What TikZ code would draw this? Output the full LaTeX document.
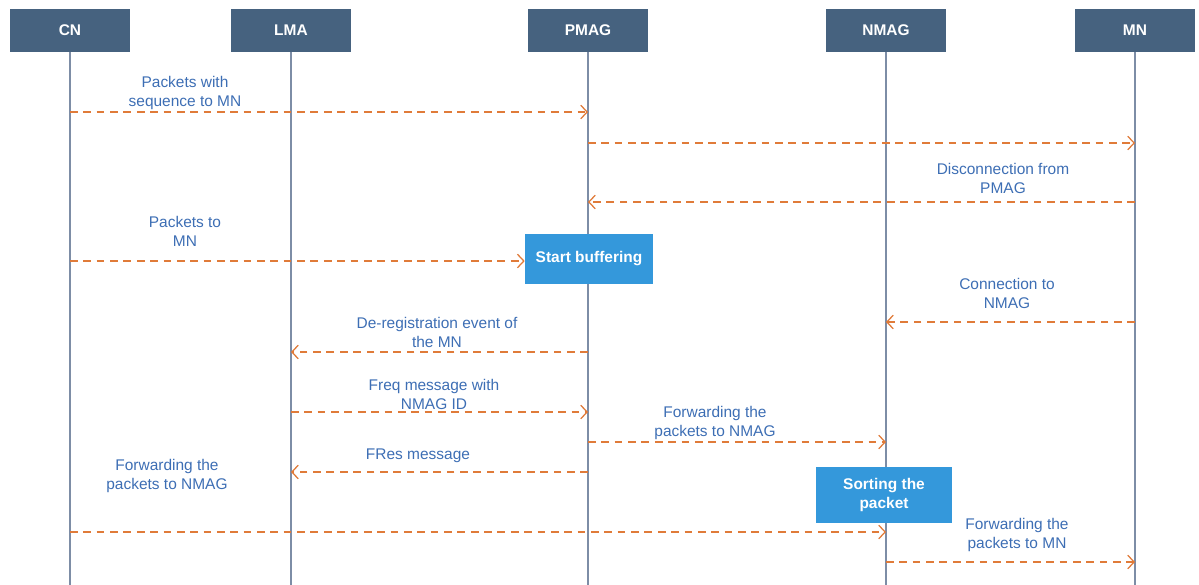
\documentclass[tikz,border=0pt]{standalone}
\usepackage{fontspec}
\setmainfont{Liberation Sans}
\usetikzlibrary{arrows.meta, positioning}

\definecolor{headblue}{HTML}{46627F}
\definecolor{lifegrey}{HTML}{7D8DA6}
\definecolor{msgorange}{HTML}{E07B39}
\definecolor{lblblue}{HTML}{3D6EB4}
\definecolor{procblue}{HTML}{3498DB}

\begin{document}
\begin{tikzpicture}[x=0.025cm, y=-0.025cm,
    head/.style={rectangle, fill=headblue, text=white, minimum width=3cm, minimum height=1.075cm, inner sep=0pt, font=\fontsize{11}{13.5}\selectfont\bfseries},
    life/.style={draw=lifegrey, line width=1.3pt},
    msg/.style={draw=msgorange, line width=0.9pt, dash pattern=on 5.5pt off 4pt, -{Straight Barb[length=1.6mm, width=3.4mm]}},
    lbl/.style={text=lblblue, align=center, inner sep=0pt, font=\fontsize{11}{13.5}\selectfont},
    proc/.style={rectangle, fill=procblue, text=white, align=center, inner sep=0pt, font=\fontsize{11}{13.5}\selectfont\bfseries}]
    \useasboundingbox (0,0) rectangle (1199,585);

    % entities
    \node [head] (cn) at (70,30.5) {CN};
    \node [head] (lma) at (291,30.5) {LMA};
    \node [head] (pmag) at (588,30.5) {PMAG};
    \node [head] (nmag) at (886,30.5) {NMAG};
    \node [head] (mn) at (1135,30.5) {MN};

    % lifelines
    \coordinate (cnend) at (70,585);
    \coordinate (lmaend) at (291,585);
    \coordinate (pmagend) at (588,585);
    \coordinate (nmagend) at (886,585);
    \coordinate (mnend) at (1135,585);
    \draw [life] (cn) -- (cnend);
    \draw [life] (lma) -- (lmaend);
    \draw [life] (pmag) -- (pmagend);
    \draw [life] (nmag) -- (nmagend);
    \draw [life] (mn) -- (mnend);

    % actions
    \node [proc, minimum width=3.2cm, minimum height=1.25cm] (buf) at (589,259) {Start buffering};
    \node [proc, minimum width=3.4cm, minimum height=1.4cm] (sort) at (884,495) {Sorting the\\packet};

    % messages
    \draw [msg] (cn |- 0,112) -- (pmag |- 0,112);
    \node [lbl] (l1) at (185,93) {Packets with\\sequence to MN};
    \draw [msg] (pmag |- 0,143) -- (mn |- 0,143);
    \draw [msg] (mn |- 0,202) -- (pmag |- 0,202);
    \node [lbl] (l3) at (1003,178) {Disconnection from\\PMAG};
    \draw [msg] (cn |- 0,261) -- (buf.west |- 0,261);
    \node [lbl] (l4) at (185,231) {Packets to\\MN};
    \draw [msg] (mn |- 0,322) -- (nmag |- 0,322);
    \node [lbl] (l5) at (1007,293) {Connection to\\NMAG};
    \draw [msg] (pmag |- 0,352) -- (lma |- 0,352);
    \node [lbl] (l6) at (437,332) {De-registration event of\\the MN};
    \draw [msg] (lma |- 0,412) -- (pmag |- 0,412);
    \node [lbl] (l7) at (434,394) {Freq message with\\NMAG ID};
    \draw [msg] (pmag |- 0,442) -- (nmag |- 0,442);
    \node [lbl] (l8) at (715,423) {Forwarding the\\packets to NMAG};
    \draw [msg] (pmag |- 0,472) -- (lma |- 0,472);
    \node [lbl] (l9) at (418,456) {FRes message};
    \draw [msg] (cn |- 0,532) -- (nmag |- 0,532);
    \node [lbl] (l10) at (167,476) {Forwarding the\\packets to NMAG};
    \draw [msg] (nmag |- 0,562) -- (mn |- 0,562);
    \node [lbl] (l11) at (1017,535) {Forwarding the\\packets to MN};
\end{tikzpicture}
\end{document}
